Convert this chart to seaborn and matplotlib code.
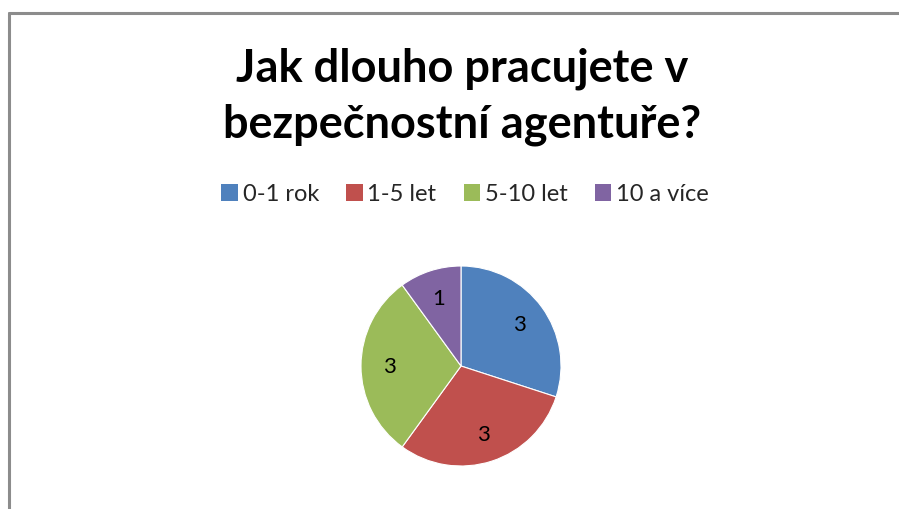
import numpy as np
import seaborn as sns
import matplotlib.pyplot as plt
from matplotlib.patches import Patch
from matplotlib.lines import Line2D

sns.set_theme(style="white")
plt.rcParams['font.family'] = ['Lato', 'DejaVu Sans']

categories = ["0-1 rok", "1-5 let", "5-10 let", "10 a více"]
values = [3, 3, 3, 1]
colors = ["#4F81BD", "#C0504D", "#9BBB59", "#8064A2"]
title = "Jak dlouho pracujete v\nbezpečnostní agentuře?"

W, H = 899, 510
fig = plt.figure(figsize=(W / 100, H / 100), dpi=100)

# chart border (only top and left visible in the crop)
fig.add_artist(Line2D([8.5 / W, 8.5 / W], [0, 1 - 13.5 / H], color="#8c8c8c", lw=2.2))
fig.add_artist(Line2D([8.5 / W, 1], [1 - 13.5 / H, 1 - 13.5 / H], color="#8c8c8c", lw=2.2))

fig.text(462 / W, 1 - 97 / H, title, ha="center", va="center", fontsize=32.5,
         fontweight="bold", color="black", linespacing=1.4)

cx, cy, r = 461, 367, 100
ax = fig.add_axes([(cx - r) / W, (H - cy - r) / H, 2 * r / W, 2 * r / H])
wedges, texts, autotexts = ax.pie(
    values, colors=colors, startangle=90, counterclock=False,
    autopct=lambda p: f"{p * sum(values) / 100:.0f}", pctdistance=0.72,
    wedgeprops=dict(edgecolor="white", linewidth=0.8),
    textprops=dict(fontsize=16, color="black"))
ax.set_xlim(-1, 1)
ax.set_ylim(-1, 1)
ax.set_aspect("equal")
ax.axis("off")

handles = [Patch(facecolor=c, edgecolor="none") for c in colors]
fig.legend(handles, categories, loc="center", bbox_to_anchor=(465 / W, 1 - 195 / H),
           ncol=4, frameon=False, fontsize=17, handlelength=0.7, handleheight=0.7,
           handletextpad=0.2, columnspacing=1.15)

fig.savefig("out.png", dpi=100, facecolor="white")
